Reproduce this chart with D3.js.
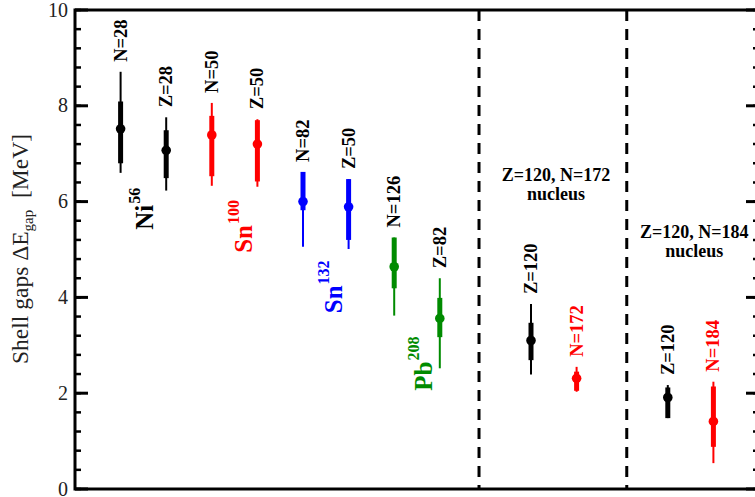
<!DOCTYPE html>
<html>
<head>
<meta charset="utf-8">
<script src="https://cdn.jsdelivr.net/npm/d3@7"></script>
<style>
  html, body { margin: 0; padding: 0; background: #fff; }
  svg { display: block; }
  text { font-family: "Liberation Serif", "Times New Roman", serif; }
</style>
</head>
<body>
<svg id="chart" width="755" height="497"></svg>
<script>
// ---- data ----
const barLabels   = ["N=28","Z=28","N=50","Z=50","N=82","Z=50","N=126","Z=82","Z=120","N=172","Z=120","N=184"];
const barSlots    = [1, 2, 3, 4, 5, 6, 7, 8, 10, 11, 13, 14];
const gapValues   = [7.52, 7.07, 7.39, 7.20, 6.00, 5.89, 4.64, 3.56, 3.10, 2.31, 1.91, 1.41];
const thinHigh    = [8.71, 7.76, 8.06, 7.72, 6.62, 6.47, 5.25, 4.40, 3.86, 2.55, 2.17, 2.24];
const thickHigh   = [8.09, 7.49, 7.79, 7.70, 6.62, 6.47, 5.25, 3.99, 3.47, 2.45, 2.12, 2.14];
const thickLow    = [6.80, 6.49, 6.53, 6.42, 5.82, 5.20, 4.19, 3.17, 2.69, 2.05, 1.48, 0.88];
const thinLow     = [6.60, 6.23, 6.33, 6.31, 5.06, 5.01, 3.62, 2.52, 2.39, 2.03, 1.48, 0.54];
const barColors   = ["black","black","red","red","blue","blue","green","green","black","red","black","red"];
const labelColors = ["black","black","black","black","black","black","black","black","black","red","black","red"];

const yTicks = [0, 2, 4, 6, 8, 10];
const yMinorTicks = d3.range(0, 10.01, 0.4);

const nucleusNames  = ["Ni", "Sn", "Sn", "Pb"];
const nucleusMass   = ["56", "100", "132", "208"];
const nucleusColors = ["black", "red", "blue", "green"];
const nucleusX      = [1.71, 3.88, 5.86, 7.82];
const nucleusY      = [5.41, 4.93, 3.67, 2.05];

const dividers = [8.86, 12.1];
const boxTitles = [["Z=120, N=172", "nucleus"], ["Z=120, N=184", "nucleus"]];
const boxTitleX = [10.55, 13.58];
const boxTitleY = [6.42, 5.25];

// ---- layout ----
const svg = d3.select("#chart");
const colorMap = { black: "#000000", red: "#ff0000", blue: "#0000ff", green: "#008b00" };

const x = d3.scaleLinear().domain([0, 15]).range([75, 759]);
const y = d3.scaleLinear().domain([0, 10]).range([489, 10]);

const g = svg.append("g");

// dividers
g.selectAll("line.div").data(dividers).join("line")
  .attr("x1", d => x(d)).attr("x2", d => x(d))
  .attr("y1", y(10)).attr("y2", y(0))
  .attr("stroke", "#000").attr("stroke-width", 3)
  .attr("stroke-dasharray", "11,8");

// axis labels
const leftAxis = d3.axisLeft(y).tickValues(yTicks).tickSize(0).tickPadding(7).tickFormat(d3.format("d"));
const la = g.append("g").attr("transform", `translate(${x(0)},0)`).call(leftAxis);
la.select(".domain").remove();
la.selectAll("text").attr("font-size", 20).attr("fill", "#222").attr("dy", "0.3em");

// ticks inward (left)
g.selectAll("line.minL").data(yMinorTicks).join("line")
  .attr("x1", x(0)).attr("x2", x(0) + 6)
  .attr("y1", d => y(d)).attr("y2", d => y(d))
  .attr("stroke", "#000").attr("stroke-width", 2.5);
g.selectAll("line.majL").data(yTicks).join("line")
  .attr("x1", x(0)).attr("x2", x(0) + 13)
  .attr("y1", d => y(d)).attr("y2", d => y(d))
  .attr("stroke", "#000").attr("stroke-width", 3);
// ticks inward (right)
g.selectAll("line.minR").data(yMinorTicks).join("line")
  .attr("x1", x(15)).attr("x2", x(15) - 6)
  .attr("y1", d => y(d)).attr("y2", d => y(d))
  .attr("stroke", "#000").attr("stroke-width", 2.5);
g.selectAll("line.majR").data(yTicks).join("line")
  .attr("x1", x(15)).attr("x2", x(15) - 13)
  .attr("y1", d => y(d)).attr("y2", d => y(d))
  .attr("stroke", "#000").attr("stroke-width", 3);

g.append("rect")
  .attr("x", x(0)).attr("y", y(10))
  .attr("width", x(15) - x(0)).attr("height", y(0) - y(10))
  .attr("fill", "none").attr("stroke", "#000").attr("stroke-width", 3);

// y title
const yt = g.append("text")
  .attr("transform", `translate(28,${249}) rotate(-90)`)
  .attr("text-anchor", "middle")
  .attr("font-size", 23.5)
  .attr("fill", "#222");
yt.append("tspan").text("Shell gaps ΔE");
yt.append("tspan").attr("font-size", 15).attr("dy", 5).text("gap");
yt.append("tspan").attr("dy", -5).text("\u00a0\u00a0[MeV]");

// bars
const idx = d3.range(barLabels.length);
const bars = g.append("g");
bars.selectAll("line.thin").data(idx).join("line")
  .attr("x1", i => x(barSlots[i])).attr("x2", i => x(barSlots[i]))
  .attr("y1", i => y(thinHigh[i])).attr("y2", i => y(thinLow[i]))
  .attr("stroke", i => colorMap[barColors[i]]).attr("stroke-width", 2);
bars.selectAll("line.thick").data(idx).join("line")
  .attr("x1", i => x(barSlots[i])).attr("x2", i => x(barSlots[i]))
  .attr("y1", i => y(thickHigh[i])).attr("y2", i => y(thickLow[i]))
  .attr("stroke", i => colorMap[barColors[i]]).attr("stroke-width", 5);
bars.selectAll("circle").data(idx).join("circle")
  .attr("cx", i => x(barSlots[i])).attr("cy", i => y(gapValues[i]))
  .attr("r", 4.8)
  .attr("fill", i => colorMap[barColors[i]]);

// bar labels
bars.selectAll("text.bl").data(idx).join("text")
  .attr("transform", i => `translate(${x(barSlots[i]) + 6},${y(thinHigh[i]) - 10}) rotate(-90)`)
  .attr("text-anchor", "start")
  .attr("font-size", 18.5)
  .attr("font-weight", "bold")
  .attr("fill", i => colorMap[labelColors[i]])
  .text(i => barLabels[i]);

// nucleus labels
const ni = d3.range(nucleusNames.length);
const nl = g.selectAll("text.nuc").data(ni).join("text")
  .attr("transform", i => `translate(${x(nucleusX[i])},${y(nucleusY[i])}) rotate(-90)`)
  .attr("font-size", 25)
  .attr("font-weight", "bold")
  .attr("fill", i => colorMap[nucleusColors[i]]);
nl.append("tspan").text(i => nucleusNames[i]);
nl.append("tspan").attr("font-size", 16).attr("dy", -13).attr("dx", 1).text(i => nucleusMass[i]);

// box titles
boxTitles.forEach((lines, k) => {
  const t = g.append("text")
    .attr("x", x(boxTitleX[k])).attr("y", y(boxTitleY[k]))
    .attr("text-anchor", "middle")
    .attr("font-size", 18).attr("font-weight", "bold").attr("fill", "#000");
  lines.forEach((s, j) => {
    t.append("tspan").attr("x", x(boxTitleX[k])).attr("dy", j === 0 ? 0 : 19).text(s);
  });
});
</script>
</body>
</html>
